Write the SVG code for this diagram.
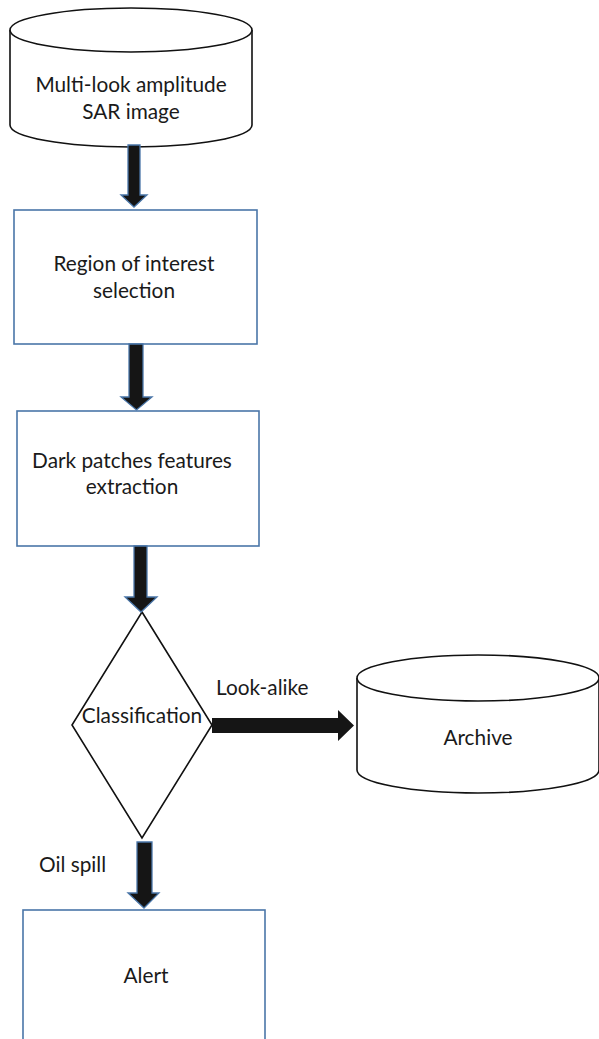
<svg xmlns="http://www.w3.org/2000/svg" width="599" height="1039" viewBox="0 0 599 1039">
  <style>
    .label { font-family: Lato, "Open Sans", "Liberation Sans", sans-serif; font-size: 20.8px; fill: #1a1a1a; text-anchor: middle; }
    .plain { text-anchor: start; }
    .box { fill: #ffffff; stroke: #4a76a8; stroke-width: 1.6; }
    .outline { fill: #ffffff; stroke: #111111; stroke-width: 1.6; }
    .arrow { fill: #151515; stroke: #4a76a8; stroke-width: 1.3; stroke-linejoin: miter; }
    .arrow-bare { fill: #151515; stroke: none; }
  </style>
  <rect width="599" height="1039" fill="#ffffff"/>

  <!-- source data store -->
  <g id="sar-image">
    <path class="outline" d="M10,30 L10,125 A121,22 0 0 0 252,125 L252,30 A121,22 0 0 0 10,30 Z"/>
    <path class="outline" fill="none" d="M10,30 A121,22 0 0 0 252,30"/>
    <text class="label" x="131" y="92">Multi-look amplitude</text>
    <text class="label" x="131" y="119">SAR image</text>
  </g>

  <g id="roi-selection">
    <rect class="box" x="14" y="210" width="243" height="134"/>
    <text class="label" x="134" y="271">Region of interest</text>
    <text class="label" x="134" y="298">selection</text>
  </g>

  <g id="feature-extraction">
    <rect class="box" x="17" y="411" width="242" height="135"/>
    <text class="label" x="132" y="468">Dark patches features</text>
    <text class="label" x="132" y="494">extraction</text>
  </g>

  <g id="classification">
    <polygon class="outline" points="142,612 212,725 142,838 72,725"/>
    <text class="label" x="142" y="723">Classification</text>
  </g>

  <g id="archive">
    <path class="outline" d="M357,678 L357,770 A121,23 0 0 0 599,770 L599,678 A121,23 0 0 0 357,678 Z"/>
    <path class="outline" fill="none" d="M357,678 A121,23 0 0 0 599,678"/>
    <text class="label" x="478" y="745">Archive</text>
  </g>

  <g id="alert">
    <rect class="box" x="23" y="910" width="242" height="140"/>
    <text class="label" x="146" y="983">Alert</text>
  </g>

  <!-- block arrows between steps -->
  <g id="connectors">
    <polygon class="arrow" points="128,145 140,145 140,195 147,195 134,207 121,195 128,195"/>
    <polygon class="arrow" points="129,344 143,344 143,397 152,397 136.5,410 121,397 129,397"/>
    <polygon class="arrow" points="134,546 147,546 147,597 157,597 141,612 125,597 134,597"/>
    <polygon class="arrow-bare" points="212,718 338,718 338,710 354,725.5 338,741 338,733 212,733"/>
    <polygon class="arrow" points="137,842 152,842 152,893 159,893 144,908 128,893 137,893"/>
    <text class="label plain" x="216" y="695">Look-alike</text>
    <text class="label plain" x="39" y="872">Oil spill</text>
  </g>
</svg>
